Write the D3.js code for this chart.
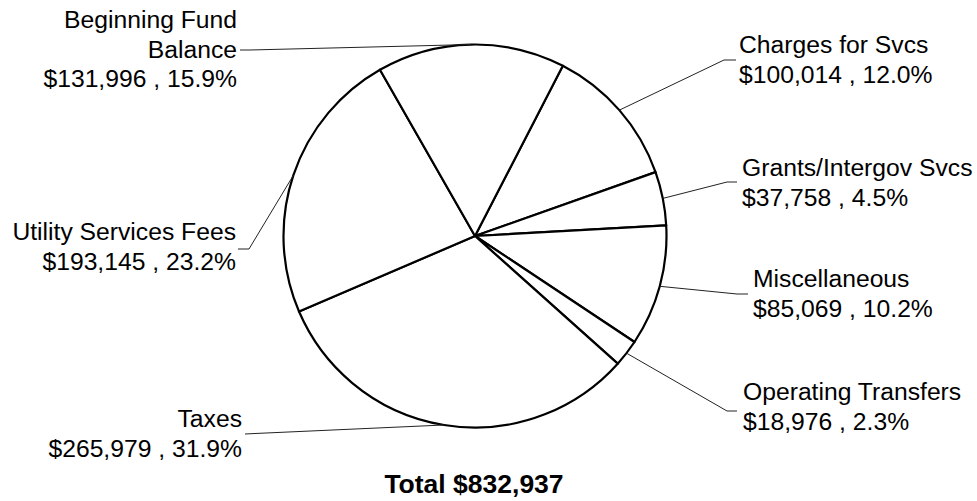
<!DOCTYPE html>
<html><head><meta charset="utf-8">
<script src="https://cdn.jsdelivr.net/npm/d3@7"></script>
<style>
html,body{margin:0;padding:0;background:#fff;}
svg{display:block;font-family:"Liberation Sans",Arial,sans-serif;}
</style></head>
<body><svg id="chart" width="977" height="501"></svg>
<script>
// ---- data ----
const categories = ["Charges for Svcs","Grants/Intergov Svcs","Miscellaneous","Operating Transfers","Taxes","Utility Services Fees","Beginning Fund Balance"];
const values = [100014, 37758, 85069, 18976, 265979, 193145, 131996];
const percents = [12.0, 4.5, 10.2, 2.3, 31.9, 23.2, 15.9];
const totalLabel = "Total";

// ---- layout (positions only) ----
const labelLayout = [
  {anchor:"start", x:739, y:53,  wrap:null,  elbow:[[724,60],[736,60]]},
  {anchor:"start", x:742, y:176, wrap:null,  elbow:[[727,182],[737,182]]},
  {anchor:"start", x:753, y:287, wrap:null,  elbow:[[737,294],[748,294]]},
  {anchor:"start", x:743, y:400, wrap:null,  elbow:[[727,411],[737,411]]},
  {anchor:"end",   x:242, y:427, wrap:null,  elbow:[[255,433.5],[245,434]]},
  {anchor:"end",   x:236, y:240, wrap:null,  elbow:[[249,249],[238,249]]},
  {anchor:"end",   x:237, y:28,  wrap:"Beginning Fund", elbow:[[250,50],[240,50]]}
];

const svg = d3.select("#chart");
const cx = 475, cy = 236, r = 191.5;
const total = d3.sum(values);
const startDeg = 27.3;
const pie = d3.pie().sort(null).value(d => d)
  .startAngle(startDeg*Math.PI/180).endAngle(startDeg*Math.PI/180 + 2*Math.PI);
const arcs = pie(values);
const arc = d3.arc().innerRadius(0).outerRadius(r);

const g = svg.append("g").attr("transform", `translate(${cx},${cy})`);
g.selectAll("path.slice").data(arcs).join("path")
  .attr("class","slice")
  .attr("d", arc)
  .attr("fill","#fff")
  .attr("stroke","#000")
  .attr("stroke-width",2.2)
  .attr("stroke-linejoin","round");

const money = d3.format("$,");
const fs = 24.7, lh = 29.5;

arcs.forEach((a, i) => {
  const L = labelLayout[i];
  const mid = (a.startAngle + a.endAngle)/2;
  const px = cx + r*Math.sin(mid), py = cy - r*Math.cos(mid);
  const pts = [[px,py]].concat(L.elbow);
  svg.append("path")
    .attr("d", d3.line()(pts))
    .attr("fill","none").attr("stroke","#222").attr("stroke-width",1);
  let lines;
  const name = categories[i];
  if (L.wrap && name.startsWith(L.wrap)) lines = [L.wrap, name.slice(L.wrap.length).trim()];
  else lines = [name];
  lines.push(money(values[i]) + " , " + percents[i].toFixed(1) + "%");
  const t = svg.append("text")
    .attr("text-anchor", L.anchor)
    .attr("font-size", fs)
    .attr("fill","#000");
  lines.forEach((s, k) => {
    t.append("tspan").attr("x", L.x).attr("y", L.y + k*lh).text(s);
  });
});

svg.append("text")
  .attr("x", 474).attr("y", 493)
  .attr("text-anchor","middle")
  .attr("font-size", 26.5)
  .attr("font-weight","bold")
  .text(totalLabel + " " + money(total));
</script>
</body></html>
